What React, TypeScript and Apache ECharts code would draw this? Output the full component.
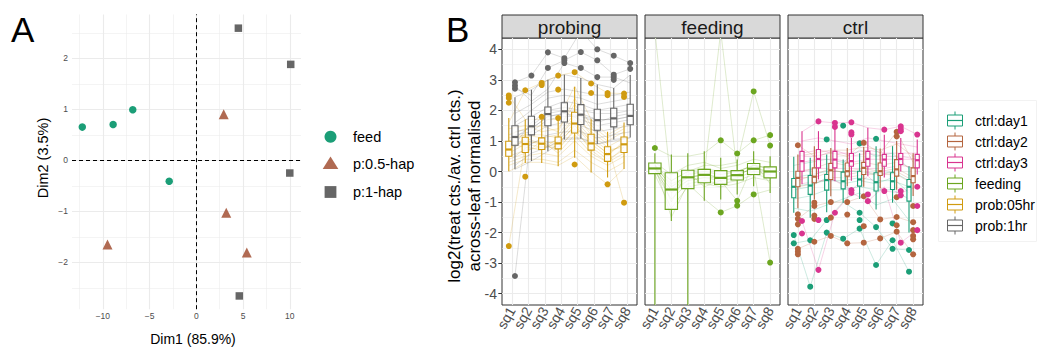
import React, { useEffect, useRef } from 'react';
import * as echarts from 'echarts';

const FONT = '"Liberation Sans", Arial, Helvetica, sans-serif';

// ---------------- Panel A data ----------------
const dim1Ticks = [-10, -5, 0, 5, 10];
const dim1Minor = [-12.5, -7.5, -2.5, 2.5, 7.5];
const dim2Ticks = [-2, -1, 0, 1, 2];
const dim2Minor = [-2.5, -1.5, -0.5, 0.5, 1.5, 2.5];
const feedPts = [[-12.2, 0.65], [-8.9, 0.7], [-6.8, 0.99], [-2.9, -0.41]];
const hap05Pts = [[2.93, 0.9], [3.2, -1.03], [5.4, -1.81], [-9.5, -1.65]];
const hap1Pts = [[4.5, 2.59], [10.1, 1.88], [10.0, -0.25], [4.6, -2.66]];
const legendA = ['feed', 'p:0.5-hap', 'p:1-hap'];

// ---------------- Panel B data ----------------
const sqLabels = ['sq1', 'sq2', 'sq3', 'sq4', 'sq5', 'sq6', 'sq7', 'sq8'];
const sqPos = [1, 2, 3, 4, 5, 6, 7, 8];
const logTicks = [-4, -3, -2, -1, 0, 1, 2, 3, 4];
const logMinor = [-3.5, -2.5, -1.5, -0.5, 0.5, 1.5, 2.5, 3.5];
const facetNames = ['probing', 'feeding', 'ctrl'];

// box stats per sq: [lower whisker, q1, median, q3, upper whisker]
const prob05Box = [
  [0.01, 0.5, 0.72, 0.99, 1.75], [0.28, 0.62, 0.9, 1.12, 1.7], [0.28, 0.72, 0.91, 1.1, 1.7], [0.17, 0.74, 0.92, 1.13, 1.67],
  [0.45, 1.26, 1.57, 1.94, 2.77], [-0.03, 0.7, 0.92, 1.22, 1.71], [-0.2, 0.33, 0.57, 0.81, 1.3], [0.08, 0.62, 0.89, 1.13, 1.6],
];
const prob05Out = [[2.49, 2.41, 2.25, -2.44], [2.66, -0.17], [2.9, 2.83, 1.79], [3.14, 2.68, 1.75], [3.25, 0.23], [2.88, 2.57], [2.57, 2.5, -0.42], [2.55, 2.44, -1.02]];
const prob1Box = [
  [0.07, 0.86, 1.13, 1.5, 2.43], [0.34, 1.2, 1.48, 1.81, 2.68], [0.66, 1.5, 1.88, 2.11, 3.0], [1.05, 1.62, 1.97, 2.25, 3.17],
  [1.07, 1.54, 1.86, 2.19, 3.06], [0.9, 1.35, 1.68, 2.04, 2.85], [1.05, 1.46, 1.74, 2.07, 2.73], [1.11, 1.53, 1.82, 2.2, 3.16],
];
const prob1Out = [[2.92, 2.81, 2.71, -3.42], [3.14], [3.9, 3.39], [3.71, 3.64, 3.55], [3.91, 3.39], [4.0, 3.64, 3.09], [3.79, 3.17, 3.09, 3.0], [3.55, 3.36]];
const feedBox = [
  [-4.37, -0.07, 0.1, 0.28, 0.6], [-1.62, -1.24, -0.59, -0.04, 0.56], [-4.37, -0.56, -0.19, 0.04, 0.6], [-0.96, -0.37, -0.11, 0.07, 0.66],
  [-0.92, -0.42, -0.21, 0.03, 0.45], [-0.75, -0.28, -0.12, 0.03, 0.39], [-0.48, -0.1, 0.09, 0.26, 0.66], [-0.7, -0.21, 0.0, 0.15, 0.5],
];
const feedOut = [[0.77], [], [], [], [1.02, -1.34], [0.59, -0.96, -1.12], [2.62, 1.02, -0.75], [1.19, 0.85, -2.98]];
const day1Box = [
  [-1.35, -0.86, -0.5, -0.23, 0.48], [-1.51, -0.75, -0.46, -0.13, 0.45], [-1.33, -0.61, -0.28, -0.1, 0.56], [-1.02, -0.57, -0.32, -0.02, 0.39],
  [-0.9, -0.48, -0.26, 0.01, 0.6], [-1.24, -0.64, -0.35, -0.04, 0.83], [-1.02, -0.59, -0.32, -0.04, 0.83], [-2.0, -0.97, -0.5, -0.26, 0.17],
];
const day1Out = [[-2.08, -2.35], [-2.25, -3.77], [1.05, -1.59, -2.0], [1.5, -2.2], [0.92, -1.35, -1.59, -1.87], [1.07, -1.82, -3.06], [-1.7, -2.25, -2.53], [-2.57, -3.28]];
const day2Box = [
  [-1.2, -0.5, -0.21, 0.01, 0.56], [-0.92, -0.37, -0.17, 0.12, 0.83], [-0.81, -0.26, 0.04, 0.26, 0.77], [-0.48, -0.15, 0.01, 0.28, 0.77],
  [-0.5, -0.1, 0.12, 0.3, 0.8], [-0.55, -0.13, 0.01, 0.28, 0.75], [-0.6, -0.15, 0.07, 0.39, 1.0], [-0.8, -0.37, -0.15, 0.12, 0.6],
];
const day2Out = [[0.86, -1.4, -1.55, -1.73, -2.53, -2.62, -2.71], [-1.02, -1.13, -1.44, -1.55, -2.3], [-1.0, -1.51, -2.11], [-1.0, -1.41, -2.35],
  [0.94, -0.81, -1.79, -2.33], [-1.57, -2.19], [1.3, 1.15, -0.84, -1.49, -1.76, -1.97], [-1.13, -1.66, -1.92, -2.11, -2.22, -2.71]];
const day3Box = [
  [-0.42, 0.01, 0.34, 0.66, 1.32], [-0.26, 0.12, 0.41, 0.72, 1.32], [-0.32, 0.12, 0.39, 0.66, 1.4], [-0.3, 0.17, 0.34, 0.59, 1.1],
  [-0.15, 0.17, 0.41, 0.66, 1.43], [-0.2, 0.17, 0.39, 0.56, 1.2], [0.0, 0.23, 0.41, 0.59, 1.1], [-0.1, 0.12, 0.37, 0.56, 1.05],
];
const day3Out = [[-1.62, -2.03], [1.64, -1.59, -3.22], [1.59, 1.46, -1.35], [1.61, 1.28, 1.21, -0.61, -0.7], [-0.75, -0.97], [1.37, -0.64],
  [1.48, 1.39, 1.32, -0.64, -0.78, -2.33], [1.21, -0.5, -1.13, -1.92]];

// individual trajectories (background lines)
const prob05Lines = [
  [0.8, 1.0, 0.9, 1.0, 1.6, 1.0, 0.6, 0.9], [0.5, 0.7, 0.8, 0.8, 1.3, 0.8, 0.4, 0.7], [1.1, 1.2, 1.1, 1.2, 1.9, 1.2, 0.8, 1.1],
  [0.3, 0.5, 0.6, 0.5, 1.0, 0.5, 0.2, 0.5], [1.4, 1.5, 1.3, 1.4, 2.2, 1.4, 1.0, 1.3], [0.6, 0.9, 1.0, 0.9, 1.5, 0.9, 0.5, 1.0],
  [0.9, 0.8, 0.7, 1.1, 1.7, 1.1, 0.7, 0.8], [0.2, 0.4, 0.4, 0.3, 0.7, 0.3, 0.0, 0.3], [1.2, 1.4, 1.5, 1.3, 2.4, 1.5, 1.1, 1.4],
  [0.7, 1.1, 0.9, 0.7, 1.4, 0.7, 0.3, 0.6], [-2.44, 0.9, 0.8, 0.9, 1.5, 1.0, 0.6, 0.9], [2.49, 1.7, 1.7, 1.7, 2.8, 1.7, 1.2, 1.5],
  [0.0, 0.3, 0.3, 0.2, 0.5, 0.0, -0.42, 0.1], [1.0, 1.2, 1.2, 1.1, 1.8, 1.3, 0.9, -1.02], [1.6, 2.66, 2.9, 3.14, 3.25, 2.88, 2.57, 2.55],
  [0.4, 0.6, 1.0, 0.6, 1.2, 0.6, 0.3, 0.8],
];
const prob1Lines = [
  [1.1, 1.5, 1.9, 2.0, 1.9, 1.7, 1.7, 1.8], [0.8, 1.2, 1.5, 1.6, 1.5, 1.3, 1.4, 1.5], [1.5, 1.8, 2.1, 2.3, 2.2, 2.0, 2.1, 2.2],
  [0.5, 0.9, 1.2, 1.3, 1.3, 1.1, 1.2, 1.3], [1.9, 2.2, 2.6, 2.7, 2.6, 2.5, 2.5, 2.6], [1.3, 1.4, 1.8, 1.9, 1.7, 1.5, 1.6, 1.7],
  [0.9, 1.6, 2.0, 2.1, 2.0, 1.9, 1.9, 2.0], [2.43, 2.68, 3.0, 3.17, 3.06, 2.85, 2.73, 3.16], [0.2, 0.6, 0.8, 1.1, 1.1, 0.9, 1.0, 1.1],
  [1.2, 1.3, 1.7, 1.8, 1.8, 1.6, 1.8, 1.9], [-3.42, 1.4, 1.8, 1.9, 1.8, 1.7, 1.7, 1.8], [2.92, 3.14, 3.9, 3.71, 4.6, 4.0, 3.79, 3.55],
  [2.71, 2.5, 3.39, 3.64, 3.91, 3.64, 3.17, 3.36], [1.6, 2.0, 2.4, 2.5, 2.4, 2.2, 2.3, 2.4], [2.81, 2.3, 2.7, 3.55, 3.39, 3.09, 3.09, 2.9],
  [0.07, 0.34, 0.66, 1.05, 1.07, 0.9, 1.05, 1.11],
];
const feedLines = [
  [0.1, -0.6, -0.2, -0.1, -0.2, -0.1, 0.1, 0.0], [0.2, -0.3, 0.0, 0.1, 0.0, 0.0, 0.2, 0.1], [0.0, -0.9, -0.4, -0.3, -0.4, -0.3, -0.1, -0.2],
  [0.3, -0.1, 0.2, 0.3, 0.1, 0.2, 0.4, 0.3], [-0.1, -1.2, -0.5, -0.4, -0.5, -0.4, -0.2, -0.3], [0.2, -0.5, -0.1, 0.0, -0.1, 0.0, 0.2, 0.1],
  [0.0, -0.7, -0.3, -0.2, -0.3, -0.2, 0.0, -0.1], [0.77, 0.5, 0.5, 0.6, 1.02, 0.59, 1.02, 1.19], [4.6, -0.5, -0.2, -0.1, -0.2, -0.1, 0.1, 0.0],
  [0.1, -0.4, -0.2, -0.1, 4.6, 0.0, 0.2, 0.1], [0.1, -0.6, -0.3, -0.2, -0.2, -0.1, 0.1, -2.98], [0.2, -1.5, -0.4, -0.9, -1.34, -1.12, -0.75, -0.6],
  [0.1, -0.3, 0.0, 0.2, 0.2, 0.3, 2.62, 0.85], [0.25, -1.0, 0.0, -0.5, -0.3, -0.96, 0.3, -0.4],
];
const day1Lines = [
  [-0.5, -0.4, -0.3, -0.3, -0.2, -0.3, -0.3, -0.5], [-0.2, -0.1, 0.0, 0.0, 0.0, -0.1, 0.0, -0.3], [-0.9, -0.8, -0.6, -0.6, -0.5, -0.6, -0.6, -0.9],
  [0.2, 0.3, 0.4, 0.3, 0.7, 0.5, 0.6, 0.1], [-1.2, -1.3, -1.1, -0.9, -0.7, -1.1, -0.9, -1.6], [-2.08, -3.77, -2.0, -2.2, -1.87, -3.06, -2.25, -3.28],
  [-2.35, -2.25, -1.59, -1.0, -1.35, -1.82, -2.53, -2.57], [-0.6, -0.5, -0.2, -0.4, -0.3, -0.4, -0.2, -0.7],
];
const day2Lines = [
  [-0.2, -0.2, 0.0, 0.0, 0.1, 0.0, 0.1, -0.2], [0.0, 0.1, 0.3, 0.2, 0.3, 0.2, 0.3, 0.1], [-0.5, -0.4, -0.2, -0.2, -0.1, -0.1, -0.1, -0.4],
  [0.5, 0.6, 0.7, 0.7, 0.8, 0.7, 0.9, 0.5], [-1.55, -1.13, -1.0, -1.0, -0.81, -1.57, -1.49, -1.66], [-2.53, -2.3, -2.11, -2.35, -2.33, -2.19, -1.97, -2.71],
  [0.86, 0.5, 0.6, 0.5, 0.94, 0.6, 1.3, 0.3], [-0.3, -0.1, 0.1, -0.1, 0.0, -0.1, 0.0, -0.3],
];
const day3Lines = [
  [0.3, 0.4, 0.4, 0.3, 0.4, 0.4, 0.4, 0.4], [0.6, 0.7, 0.6, 0.6, 0.7, 0.6, 0.6, 0.6], [0.0, 0.1, 0.1, 0.1, 0.1, 0.1, 0.2, 0.1],
  [1.0, 1.1, 1.0, 0.9, 1.1, 1.0, 0.9, 0.8], [1.3, 1.64, 1.59, 1.61, 1.43, 1.37, 1.48, 1.21], [-0.4, -0.3, -0.3, -0.6, -0.15, -0.64, -0.7, -0.5],
  [-1.62, -3.22, -1.35, -0.7, -0.97, -0.5, -2.33, -1.92], [0.5, 0.5, 0.7, 0.5, 0.6, 0.5, 0.5, 0.4],
];

const C_GREEN = '#1B9E77';
const C_BROWN_A = '#B06A52';
const C_GREY = '#666666';
const C_DAY2 = '#B4653F';
const C_DAY3 = '#D9348F';
const C_FEED = '#6CA620';
const C_PROB = '#D09B10';

const groupsB = [
  { name: 'ctrl:day1', panel: 3, color: C_GREEN, offset: -0.25, half: 0.125, box: day1Box, out: day1Out, lines: day1Lines },
  { name: 'ctrl:day2', panel: 3, color: C_DAY2, offset: 0, half: 0.125, box: day2Box, out: day2Out, lines: day2Lines },
  { name: 'ctrl:day3', panel: 3, color: C_DAY3, offset: 0.25, half: 0.125, box: day3Box, out: day3Out, lines: day3Lines },
  { name: 'feeding', panel: 2, color: C_FEED, offset: 0, half: 0.375, box: feedBox, out: feedOut, lines: feedLines },
  { name: 'prob:05hr', panel: 1, color: C_PROB, offset: -0.1875, half: 0.1875, box: prob05Box, out: prob05Out, lines: prob05Lines },
  { name: 'prob:1hr', panel: 1, color: C_GREY, offset: 0.1875, half: 0.1875, box: prob1Box, out: prob1Out, lines: prob1Lines },
];

const PANEL_X = [502, 645, 788];
const PANEL_W = 135;
const PANEL_TOP = 38;
const PANEL_H = 267;

function gridLineSeries(idx: number, majX: number[], minX: number[], majY: number[], minY: number[], major: any, minor: any) {
  return {
    type: 'line', xAxisIndex: idx, yAxisIndex: idx, data: [], z: 1, silent: true,
    markLine: {
      z: 1, silent: true, symbol: ['none', 'none'], label: { show: false }, animation: false,
      emphasis: { disabled: true },
      data: [
        ...minX.map((v) => ({ xAxis: v, lineStyle: minor })),
        ...minY.map((v) => ({ yAxis: v, lineStyle: minor })),
        ...majX.map((v) => ({ xAxis: v, lineStyle: major })),
        ...majY.map((v) => ({ yAxis: v, lineStyle: major })),
      ],
    },
  };
}

function boxSeries(g: any) {
  const half = g.half;
  const color = g.color;
  return {
    type: 'custom', xAxisIndex: g.panel, yAxisIndex: g.panel, z: 3, silent: true, clip: false,
    data: g.box.map((s: number[], i: number) => [sqPos[i] + g.offset, ...s]),
    renderItem: (_p: any, api: any) => {
      const x = api.value(0);
      const lo = api.value(1), q1 = api.value(2), md = api.value(3), q3 = api.value(4), hi = api.value(5);
      const tl = api.coord([x - half, q3]);
      const br = api.coord([x + half, q1]);
      const pHi = api.coord([x, hi]);
      const pLo = api.coord([x, lo]);
      const pQ3 = api.coord([x, q3]);
      const pQ1 = api.coord([x, q1]);
      const mL = api.coord([x - half, md]);
      const mR = api.coord([x + half, md]);
      return {
        type: 'group',
        children: [
          { type: 'line', shape: { x1: pHi[0], y1: pHi[1], x2: pQ3[0], y2: pQ3[1] }, style: { stroke: color, lineWidth: 1.1 } },
          { type: 'line', shape: { x1: pQ1[0], y1: pQ1[1], x2: pLo[0], y2: pLo[1] }, style: { stroke: color, lineWidth: 1.1 } },
          { type: 'rect', shape: { x: tl[0], y: tl[1], width: br[0] - tl[0], height: br[1] - tl[1] }, style: { fill: 'rgba(255,255,255,0.75)', stroke: color, lineWidth: 1.1 } },
          { type: 'line', shape: { x1: mL[0], y1: mL[1], x2: mR[0], y2: mR[1] }, style: { stroke: color, lineWidth: 2.2 } },
        ],
      };
    },
  };
}

function buildOption() {
  const series: any[] = [];
  const major = { color: '#EBEBEB', width: 1.1, type: 'solid' };
  const minor = { color: '#EBEBEB', width: 0.55, type: 'solid' };
  // Panel A grid
  series.push(gridLineSeries(0, dim1Ticks, dim1Minor, dim2Ticks, dim2Minor, major, minor));
  series.push({
    type: 'line', xAxisIndex: 0, yAxisIndex: 0, data: [], z: 2, silent: true,
    markLine: {
      z: 2, silent: true, symbol: ['none', 'none'], label: { show: false }, animation: false,
      lineStyle: { color: '#000', width: 1, type: [4, 3] },
      data: [{ xAxis: 0 }, { yAxis: 0 }],
    },
  });
  series.push({ type: 'scatter', name: legendA[0], xAxisIndex: 0, yAxisIndex: 0, z: 5, data: feedPts, symbol: 'circle', symbolSize: 7.5, itemStyle: { color: C_GREEN, opacity: 1 } });
  series.push({ type: 'scatter', name: legendA[1], xAxisIndex: 0, yAxisIndex: 0, z: 5, data: hap05Pts, symbol: 'triangle', symbolSize: 10, itemStyle: { color: C_BROWN_A, opacity: 1 } });
  series.push({ type: 'scatter', name: legendA[2], xAxisIndex: 0, yAxisIndex: 0, z: 5, data: hap1Pts, symbol: 'rect', symbolSize: 7.5, itemStyle: { color: C_GREY, opacity: 1 } });

  // Panel B grids
  for (let p = 1; p <= 3; p++) series.push(gridLineSeries(p, sqPos, [], logTicks, logMinor, major, minor));
  // background lines
  for (const g of groupsB) {
    for (const ln of g.lines) {
      series.push({
        type: 'line', xAxisIndex: g.panel, yAxisIndex: g.panel, z: 2, silent: true, showSymbol: false, symbol: 'none',
        data: ln.map((v: number, i: number) => [sqPos[i] + g.offset, v]),
        lineStyle: { color: g.color, width: 1, opacity: 0.22 },
      });
    }
  }
  for (const g of groupsB) series.push(boxSeries(g));
  for (const g of groupsB) {
    const pts: number[][] = [];
    g.out.forEach((vals: number[], i: number) => vals.forEach((v) => pts.push([sqPos[i] + g.offset, v])));
    series.push({ type: 'scatter', name: g.name, xAxisIndex: g.panel, yAxisIndex: g.panel, z: 5, data: pts, symbolSize: 6, itemStyle: { color: g.color, opacity: 1 } });
  }

  const minusFmt = (v: number) => (v < 0 ? '\u2212' + Math.abs(v) : String(v));

  const grid: any[] = [{ left: 72, top: 14.4, width: 229, height: 294.8, show: false }];
  PANEL_X.forEach((x) => grid.push({ left: x, top: PANEL_TOP, width: PANEL_W, height: PANEL_H, show: true, backgroundColor: '#fff', borderColor: '#333333', borderWidth: 1 }));

  const xAxis: any[] = [{
    type: 'value', gridIndex: 0, min: -13.3, max: 11.2,
    axisLine: { show: false }, splitLine: { show: false },
    axisTick: { show: true, customValues: dim1Ticks, length: 3, lineStyle: { color: '#555' } },
    axisLabel: { show: true, customValues: dim1Ticks, formatter: minusFmt, fontSize: 8.5, color: '#4D4D4D', margin: 2, fontFamily: FONT },
  }];
  const yAxis: any[] = [{
    type: 'value', gridIndex: 0, min: -2.92, max: 2.86,
    axisLine: { show: false }, splitLine: { show: false },
    axisTick: { show: true, customValues: dim2Ticks, length: 3, lineStyle: { color: '#555' } },
    axisLabel: { show: true, customValues: dim2Ticks, formatter: minusFmt, fontSize: 8.5, color: '#4D4D4D', margin: 4, fontFamily: FONT },
  }];
  for (let p = 1; p <= 3; p++) {
    xAxis.push({
      type: 'value', gridIndex: p, min: 0.4, max: 8.6,
      axisLine: { show: false }, splitLine: { show: false },
      axisTick: { show: true, customValues: sqPos, length: 3.7, lineStyle: { color: '#333333' } },
      axisLabel: { show: true, customValues: sqPos, rotate: 60, formatter: (v: number) => sqLabels[Math.round(v) - 1] ?? '', fontSize: 14, color: '#4D4D4D', margin: 3, fontFamily: FONT },
    });
    yAxis.push({
      type: 'value', gridIndex: p, min: -4.37, max: 4.37,
      axisLine: { show: false }, splitLine: { show: false },
      axisTick: { show: p === 1, customValues: logTicks, length: 3.7, lineStyle: { color: '#333333' } },
      axisLabel: { show: p === 1, customValues: logTicks, fontSize: 14, color: '#4D4D4D', margin: 5, fontFamily: FONT },
    });
  }

  const txt = (text: string, x: number, y: number, size: number, opts: any = {}) => ({
    type: 'text', x, y, rotation: opts.rotation ?? 0, z: 10,
    style: {
      text, fontSize: size, fontFamily: FONT, fill: opts.fill ?? '#000',
      textAlign: opts.align ?? 'left', align: opts.align ?? 'left',
      textVerticalAlign: opts.valign ?? 'middle', verticalAlign: opts.valign ?? 'middle',
      lineHeight: opts.lineHeight,
    },
  });

  const graphic: any[] = [];
  graphic.push(txt('A', 11, 29, 35));
  graphic.push(txt('B', 446, 29, 35));
  graphic.push(txt('Dim1 (85.9%)', 193, 339, 14, { align: 'center' }));
  graphic.push(txt('Dim2 (3.5%)', 43, 158, 14.5, { align: 'center', rotation: Math.PI / 2 }));
  // legend A
  graphic.push({ type: 'circle', shape: { cx: 330.5, cy: 136.7, r: 6 }, style: { fill: C_GREEN } });
  graphic.push({ type: 'polygon', shape: { points: [[330.5, 156.5], [338.3, 169], [322.7, 169]] }, style: { fill: C_BROWN_A } });
  graphic.push({ type: 'rect', shape: { x: 324.6, y: 186.1, width: 11.8, height: 11.8 }, style: { fill: C_GREY } });
  [136.7, 163.5, 192].forEach((y, i) => graphic.push(txt(legendA[i], 353, y, 14.5)));
  // strips
  PANEL_X.forEach((x, i) => {
    graphic.push({ type: 'rect', shape: { x: x, y: 15, width: PANEL_W, height: 23 }, style: { fill: '#D9D9D9', stroke: '#333333', lineWidth: 1 } });
    graphic.push(txt(facetNames[i], x + PANEL_W / 2, 27, 19, { align: 'center', fill: '#1A1A1A' }));
  });
  // y title B
  graphic.push(txt('log2(treat cts./av. ctrl cts.)\nacross-leaf normalised', 464, 186, 17, { align: 'center', rotation: Math.PI / 2, lineHeight: 20 }));
  // legend B
  graphic.push({ type: 'rect', shape: { x: 938.5, y: 100.5, width: 98, height: 141 }, style: { fill: 'none', stroke: '#F2F2F2', lineWidth: 1 } });
  const legY = [120.5, 141.5, 162.5, 183.5, 204.5, 225.5];
  groupsB.forEach((g, i) => {
    const y = legY[i];
    graphic.push({ type: 'line', shape: { x1: 955, y1: y - 9, x2: 955, y2: y - 5.5 }, style: { stroke: g.color, lineWidth: 1 } });
    graphic.push({ type: 'line', shape: { x1: 955, y1: y + 5.5, x2: 955, y2: y + 9 }, style: { stroke: g.color, lineWidth: 1 } });
    graphic.push({ type: 'rect', shape: { x: 947.5, y: y - 5.5, width: 15, height: 11 }, style: { fill: '#fff', stroke: g.color, lineWidth: 1 } });
    graphic.push({ type: 'line', shape: { x1: 947.5, y1: y, x2: 962.5, y2: y }, style: { stroke: g.color, lineWidth: 1.2 } });
    graphic.push(txt(g.name, 975, y, 14));
  });

  return {
    animation: false,
    backgroundColor: '#ffffff',
    textStyle: { fontFamily: FONT },
    grid, xAxis, yAxis, series,
    graphic: { elements: graphic },
  };
}

export default function App() {
  const ref = useRef<HTMLDivElement>(null);
  useEffect(() => {
    if (!ref.current) return;
    const chart = echarts.init(ref.current, null, { renderer: 'svg' });
    chart.setOption(buildOption() as any);
    return () => chart.dispose();
  }, []);
  return <div ref={ref} style={{ position: 'absolute', left: 0, top: 0, width: 1040, height: 349 }} />;
}
